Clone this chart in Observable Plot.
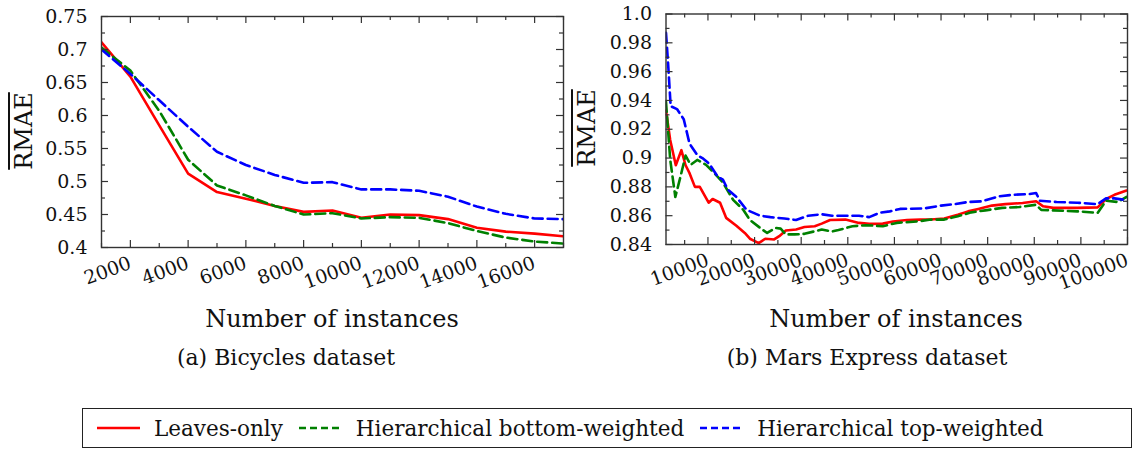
<!DOCTYPE html>
<html>
<head>
<meta charset="utf-8">
<script src="https://cdn.jsdelivr.net/npm/d3@7"></script>
<script src="https://cdn.jsdelivr.net/npm/@observablehq/plot@0.6"></script>
<style>
  html, body { margin: 0; padding: 0; background: #fff; }
  #root { position: relative; width: 1134px; height: 453px; font-family: "DejaVu Serif", serif; color: #111; overflow: hidden; }
  .panel { position: absolute; top: 0; }
  .ylab { position: absolute; font-size: 24px; text-decoration: overline; transform: translate(-50%, -50%) rotate(-90deg); white-space: nowrap; }
  .xlab { position: absolute; font-size: 24px; transform: translate(-50%, -50%); white-space: nowrap; }
  .cap { position: absolute; font-size: 22px; transform: translate(-50%, -50%); white-space: nowrap; }
  #legend { position: absolute; left: 82px; top: 408px; width: 1034px; height: 38px; border: 1.3px solid #222; display: flex; align-items: center; padding-left: 14px; box-sizing: content-box; font-size: 21.5px; }
  #legend .item { display: flex; align-items: center; margin-right: 16px; }
  #legend svg { margin-right: 14px; }
</style>
</head>
<body>
<div id="root"></div>
<script>
// ---------------- Data ----------------
const seriesNames = ["Leaves-only", "Hierarchical bottom-weighted", "Hierarchical top-weighted"];
const seriesColors = ["#ff0000", "#008000", "#0000ff"];

// (a) Bicycles dataset
const bikeX = [1000, 2000, 3000, 4000, 5000, 6000, 7000, 8000, 9000, 10000, 11000, 12000, 13000, 14000, 15000, 16000, 17000];
const bikeLeaves = [0.711, 0.659, 0.585, 0.512, 0.484, 0.474, 0.463, 0.454, 0.456, 0.445, 0.450, 0.449, 0.443, 0.430, 0.424, 0.421, 0.417];
const bikeBottom = [0.703, 0.668, 0.607, 0.533, 0.494, 0.479, 0.463, 0.450, 0.452, 0.444, 0.446, 0.445, 0.437, 0.425, 0.415, 0.409, 0.406];
const bikeTop    = [0.700, 0.663, 0.623, 0.583, 0.545, 0.525, 0.510, 0.498, 0.499, 0.488, 0.488, 0.486, 0.477, 0.462, 0.451, 0.444, 0.443];
const bikeXTicks = [2000, 4000, 6000, 8000, 10000, 12000, 14000, 16000];
const bikeXMinor = [1000, 3000, 5000, 7000, 9000, 11000, 13000, 15000, 17000];
const bikeYTicks = [0.4, 0.45, 0.5, 0.55, 0.6, 0.65, 0.7, 0.75];
const bikeYLabels = ["0.4", "0.45", "0.5", "0.55", "0.6", "0.65", "0.7", "0.75"];
const bikeYMinor = [0.425, 0.475, 0.525, 0.575, 0.625, 0.675, 0.725];

// (b) Mars Express dataset
const marsLeavesX = [1000, 1900, 3100, 4300, 5200, 6050, 7200, 8250, 10150, 11000, 12600, 13900, 16100, 17900, 19000, 20900, 22300, 24200, 25300, 26700, 28900, 30700, 32900, 34400, 36200, 39500, 42400, 44600, 47500, 49700, 52700, 55600, 57800, 60700, 63600, 65800, 68000, 70900, 73800, 77500, 80400, 81900, 84100, 89200, 93600, 95400, 97200, 99800];
const marsLeavesY = [0.933, 0.9125, 0.895, 0.9055, 0.895, 0.8895, 0.880, 0.880, 0.869, 0.8716, 0.869, 0.8585, 0.853, 0.848, 0.844, 0.841, 0.844, 0.8435, 0.8458, 0.8497, 0.8504, 0.8522, 0.8527, 0.8545, 0.857, 0.8573, 0.855, 0.8543, 0.8545, 0.856, 0.857, 0.8573, 0.8573, 0.858, 0.8607, 0.863, 0.8647, 0.867, 0.868, 0.8688, 0.870, 0.8665, 0.8654, 0.8654, 0.8658, 0.8716, 0.8745, 0.8775];
const marsBottomX = [1000, 1900, 3000, 4100, 5200, 6300, 7700, 9600, 11400, 13200, 15400, 17600, 19000, 21200, 22700, 24500, 25600, 26700, 28600, 30700, 34400, 36600, 38000, 41000, 43900, 47500, 50500, 54900, 57800, 60700, 63600, 66500, 69500, 73100, 76800, 80400, 81500, 84100, 89200, 93600, 95400, 97900, 99800];
const marsBottomY = [0.939, 0.899, 0.873, 0.887, 0.9017, 0.8953, 0.8987, 0.8953, 0.8895, 0.883, 0.871, 0.864, 0.857, 0.8515, 0.848, 0.8515, 0.851, 0.847, 0.847, 0.8474, 0.8504, 0.849, 0.850, 0.8527, 0.8534, 0.8527, 0.855, 0.856, 0.8573, 0.8573, 0.8596, 0.8623, 0.8637, 0.8654, 0.866, 0.8676, 0.864, 0.8637, 0.863, 0.862, 0.8704, 0.8695, 0.873];
const marsTopX = [1000, 1500, 2000, 3350, 4800, 6050, 7740, 8800, 10300, 12100, 13200, 14300, 16100, 18300, 21200, 23400, 26400, 28900, 31500, 34400, 36600, 39500, 42400, 44600, 46800, 49000, 51200, 56300, 60000, 62900, 65800, 68700, 72400, 75300, 79000, 80400, 81200, 84800, 89200, 93600, 95400, 97200, 99400];
const marsTopY = [0.987, 0.963, 0.936, 0.934, 0.927, 0.910, 0.902, 0.900, 0.896, 0.887, 0.885, 0.878, 0.873, 0.864, 0.860, 0.859, 0.858, 0.857, 0.860, 0.861, 0.860, 0.860, 0.860, 0.859, 0.862, 0.863, 0.8647, 0.865, 0.867, 0.868, 0.8695, 0.870, 0.8734, 0.8745, 0.875, 0.8757, 0.8704, 0.8695, 0.869, 0.868, 0.872, 0.872, 0.871];
const marsXTicks = [10000, 20000, 30000, 40000, 50000, 60000, 70000, 80000, 90000, 100000];
const marsXMinor = [5000, 15000, 25000, 35000, 45000, 55000, 65000, 75000, 85000, 95000];
const marsYTicks = [0.84, 0.86, 0.88, 0.9, 0.92, 0.94, 0.96, 0.98, 1.0];
const marsYLabels = ["0.84", "0.86", "0.88", "0.9", "0.92", "0.94", "0.96", "0.98", "1.0"];
const marsYMinor = [0.85, 0.87, 0.89, 0.91, 0.93, 0.95, 0.97, 0.99];

const axisTitleX = "Number of instances";
const axisTitleY = "RMAE";
const captions = ["(a) Bicycles dataset", "(b) Mars Express dataset"];

// ---------------- Helpers ----------------
const zip = (xs, ys, s) => xs.map((x, i) => ({x, y: ys[i], s}));
const dashes = [null, "10,5", "10,5"];

function panel({width, height, mL, mR, mT, mB, xDomain, yDomain, series, xTicks, xMinor, yTicks, yLabels, yMinor}) {
  const fw = width - mL - mR, fh = height - mT - mB;
  const yMap = new Map(yTicks.map((t, i) => [t, yLabels[i]]));
  const major = 7, minor = 4, ink = "#333";
  return Plot.plot({
    width, height, marginLeft: mL, marginRight: mR, marginTop: mT, marginBottom: mB,
    style: {fontFamily: "DejaVu Serif", fontSize: "19px", background: "transparent", overflow: "visible", color: "#111"},
    x: {domain: xDomain},
    y: {domain: yDomain},
    marks: [
      Plot.axisX(xTicks, {tickSize: 0, tickRotate: -20, tickPadding: 15, tickFormat: d => String(d), label: null}),
      Plot.axisY(yTicks, {tickSize: 0, tickPadding: 14, tickFormat: d => yMap.get(d), label: null}),
      ...series.map((d, k) => Plot.line(d, {x: "x", y: "y", stroke: seriesColors[k], strokeWidth: 2.6, strokeDasharray: dashes[k], clip: true})),
      // inward ticks, bottom/top
      Plot.tickX(xTicks, {x: d => d, insetTop: fh - major, stroke: ink, strokeWidth: 1.2}),
      Plot.tickX(xTicks, {x: d => d, insetBottom: fh - major, stroke: ink, strokeWidth: 1.2}),
      Plot.tickX(xMinor, {x: d => d, insetTop: fh - minor, stroke: ink, strokeWidth: 1.2}),
      Plot.tickX(xMinor, {x: d => d, insetBottom: fh - minor, stroke: ink, strokeWidth: 1.2}),
      // inward ticks, left/right
      Plot.tickY(yTicks, {y: d => d, insetRight: fw - major, stroke: ink, strokeWidth: 1.2}),
      Plot.tickY(yTicks, {y: d => d, insetLeft: fw - major, stroke: ink, strokeWidth: 1.2}),
      Plot.tickY(yMinor, {y: d => d, insetRight: fw - minor, stroke: ink, strokeWidth: 1.2}),
      Plot.tickY(yMinor, {y: d => d, insetLeft: fw - minor, stroke: ink, strokeWidth: 1.2}),
      Plot.frame({stroke: ink, strokeWidth: 1.4})
    ]
  });
}

const root = document.getElementById("root");

const leftPlot = panel({
  width: 565, height: 300, mL: 101, mR: 2, mT: 16, mB: 53,
  xDomain: [1000, 17000], yDomain: [0.4, 0.75],
  series: [zip(bikeX, bikeLeaves, 0), zip(bikeX, bikeBottom, 1), zip(bikeX, bikeTop, 2)],
  xTicks: bikeXTicks, xMinor: bikeXMinor, yTicks: bikeYTicks, yLabels: bikeYLabels, yMinor: bikeYMinor
});
const rightPlot = panel({
  width: 569, height: 300, mL: 100.5, mR: 7, mT: 13.5, mB: 56,
  xDomain: [1000, 100000], yDomain: [0.84, 1.0],
  series: [zip(marsLeavesX, marsLeavesY, 0), zip(marsBottomX, marsBottomY, 1), zip(marsTopX, marsTopY, 2)],
  xTicks: marsXTicks, xMinor: marsXMinor, yTicks: marsYTicks, yLabels: marsYLabels, yMinor: marsYMinor
});

const lp = document.createElement("div"); lp.className = "panel"; lp.style.left = "0px"; lp.appendChild(leftPlot); root.appendChild(lp);
const rp = document.createElement("div"); rp.className = "panel"; rp.style.left = "565px"; rp.appendChild(rightPlot); root.appendChild(rp);

function addText(cls, text, x, y) {
  const d = document.createElement("div");
  d.className = cls; d.textContent = text;
  d.style.left = x + "px"; d.style.top = y + "px";
  root.appendChild(d);
}
addText("ylab", axisTitleY, 24, 131);
addText("ylab", axisTitleY, 587, 128);
addText("xlab", axisTitleX, 332, 319);
addText("xlab", axisTitleX, 896, 319);
addText("cap", captions[0], 286, 357);
addText("cap", captions[1], 867, 357);

// Legend
const legend = document.createElement("div");
legend.id = "legend";
seriesNames.forEach((name, k) => {
  const item = document.createElement("div");
  item.className = "item";
  const ns = "http://www.w3.org/2000/svg";
  const svg = document.createElementNS(ns, "svg");
  svg.setAttribute("width", 43); svg.setAttribute("height", 10);
  const ln = document.createElementNS(ns, "line");
  ln.setAttribute("x1", 0); ln.setAttribute("x2", 43); ln.setAttribute("y1", 5); ln.setAttribute("y2", 5);
  ln.setAttribute("stroke", seriesColors[k]); ln.setAttribute("stroke-width", 2.6);
  if (dashes[k]) ln.setAttribute("stroke-dasharray", "7,4");
  svg.appendChild(ln);
  const t = document.createElement("span"); t.textContent = name;
  item.appendChild(svg); item.appendChild(t);
  legend.appendChild(item);
});
root.appendChild(legend);
</script>
</body>
</html>
